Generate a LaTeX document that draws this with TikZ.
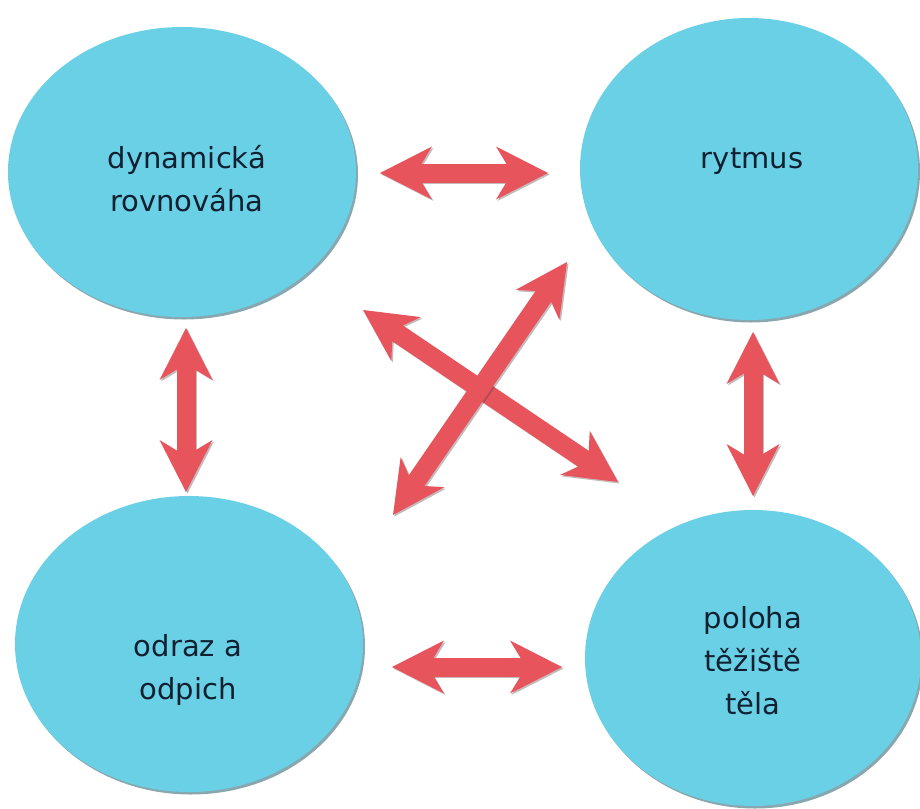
\documentclass[tikz,border=0pt]{standalone}
\usepackage{fontspec}
\setmainfont{DejaVu Sans}
\usetikzlibrary{arrows.meta,shapes.geometric,shadows}
\definecolor{bubblefill}{RGB}{106,208,230}
\definecolor{bubbleshade}{RGB}{40,95,110}
\definecolor{arrowred}{RGB}{232,84,92}
\definecolor{arrowshade}{RGB}{90,60,62}
\definecolor{txt}{RGB}{16,32,48}
\tikzset{
  bubble/.style={ellipse, fill=bubblefill, draw=none, inner sep=0pt,
    drop shadow={shadow xshift=2pt, shadow yshift=-2.5pt, opacity=.55, fill=bubbleshade}},
  label text/.style={text=txt, align=center, inner sep=0pt,
    font=\fontsize{29}{43}\selectfont},
  tipshape/.tip={Stealth[length=52pt, width=53pt, inset=16pt, line width=0pt]},
  link/.style={draw=arrowred, fill=arrowred, line width=19pt, tipshape-tipshape},
  linkshade/.style={draw=arrowshade, fill=arrowshade, opacity=.35, line width=19pt, tipshape-tipshape}
}
\begin{document}
\begin{tikzpicture}[x=1pt,y=-1pt]
\useasboundingbox[fill=white] (0,0) rectangle (920,808);
% bubbles
\node[bubble, minimum width=348pt, minimum height=290pt] (tl) at (182,172) {};
\node[bubble, minimum width=338pt, minimum height=302pt] (tr) at (749,169) {};
\node[bubble, minimum width=348pt, minimum height=296pt] (bl) at (189,644) {};
\node[bubble, minimum width=336pt, minimum height=296pt] (br) at (753,658) {};
% texts
\node[label text] (tltext) at (187,179) {dynamická\\rovnováha};
\node[label text] (trtext) at (752,161) {rytmus};
\node[label text] (bltext) at (188,670) {odraz a\\odpich};
\node[label text] (brtext) at (753,661) {poloha\\těžiště\\těla};
% arrow end points
\coordinate (t1) at (380,173); \coordinate (t2) at (548,173);
\coordinate (b1) at (392,667); \coordinate (b2) at (562,667);
\coordinate (l1) at (186,328); \coordinate (l2) at (186,492);
\coordinate (r1) at (753,332); \coordinate (r2) at (753,496);
\coordinate (d1) at (363,310); \coordinate (d2) at (618,482);
\coordinate (e1) at (567,262); \coordinate (e2) at (393,515);
\foreach \a/\b in {t1/t2,b1/b2,l1/l2,r1/r2,d1/d2,e1/e2}{
  \draw[linkshade] ([shift={(1.5,1.5)}]\a) -- ([shift={(1.5,1.5)}]\b);
  \draw[link] (\a) -- (\b);
}
\end{tikzpicture}
\end{document}
